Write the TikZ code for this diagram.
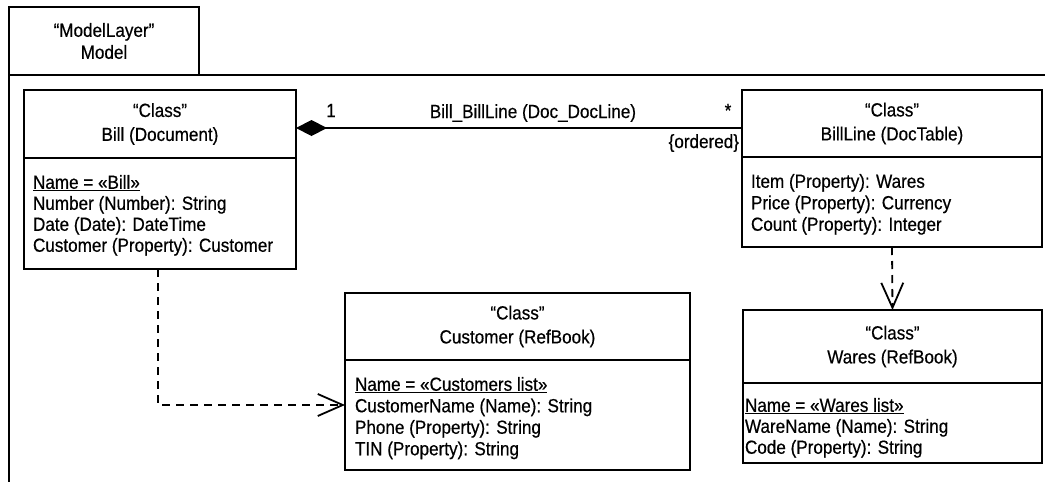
\documentclass[tikz,border=0pt]{standalone}
\usepackage{fontspec}
\setmainfont{Liberation Sans}[FakeStretch=0.9,FakeBold=0.5]
\usetikzlibrary{arrows.meta,calc}
\begin{document}
\begin{tikzpicture}[x=1pt,y=-1pt,
  every node/.style={font=\fontsize{19}{21}\selectfont, inner sep=0pt, outer sep=0pt},
  hdr/.style={draw, line width=1.8pt, align=center, anchor=north west, font=\fontsize{19}{24}\selectfont},
  bdy/.style={draw, line width=1.8pt, anchor=north west},
  attr/.style={align=left, anchor=north west},
  lbl/.style={anchor=base},
  frame/.style={line width=1.8pt},
  dep/.style={line width=1.8pt, dash pattern=on 8pt off 6pt, -{Straight Barb[length=25pt,width=22pt,line width=1.8pt]}},
  comp/.style={line width=1.8pt, {Diamond[length=31pt,width=16pt,fill=black]}-},
]
\useasboundingbox (0,0) rectangle (1045,482);
% package frame
\node[hdr, minimum width=190pt, minimum height=68pt, font=\fontsize{19}{22}\selectfont] (pkg) at (9,7) {“ModelLayer”\\Model};
\coordinate (frameR) at (1046,75);
\coordinate (frameB) at (9,483);
\draw[frame] (pkg.south west) -- (frameR);
\draw[frame] (pkg.south west) -- (frameB);

% Bill
\node[hdr, minimum width=272pt, minimum height=68pt] (billH) at (24,90) {“Class”\\Bill (Document)};
\node[bdy, minimum width=272pt, minimum height=111pt] (billB) at (billH.south west) {};
\node[attr] (billT) at (33,175) {\underline{Name = «Bill»}\\Number (Number): String\\Date (Date): DateTime\\Customer (Property): Customer};

% BillLine
\node[hdr, minimum width=300pt, minimum height=67pt] (blH) at (742,90) {“Class”\\BillLine (DocTable)};
\node[bdy, minimum width=300pt, minimum height=90pt] (blB) at (blH.south west) {};
\node[attr, font=\fontsize{19}{21.5}\selectfont] (blT) at (751,174) {Item (Property): Wares\\Price (Property): Currency\\Count (Property): Integer};

% Customer
\node[hdr, minimum width=345pt, minimum height=67pt] (cuH) at (345,293) {“Class”\\Customer (RefBook)};
\node[bdy, minimum width=345pt, minimum height=110pt] (cuB) at (cuH.south west) {};
\node[attr, font=\fontsize{19}{21.5}\selectfont] (cuT) at (355,377) {\underline{Name = «Customers list»}\\CustomerName (Name): String\\Phone (Property): String\\TIN (Property): String};

% Wares
\node[hdr, minimum width=299pt, minimum height=73pt] (waH) at (743,310) {“Class”\\Wares (RefBook)};
\node[bdy, minimum width=299pt, minimum height=80pt] (waB) at (waH.south west) {};
\node[attr, font=\fontsize{19}{21}\selectfont] (waT) at (745,398) {\underline{Name = «Wares list»}\\WareName (Name): String\\Code (Property): String};

% composition
\draw[comp] ($(billH.east)+(0,4)$) coordinate (cA) -- ($(blH.west)+(0,4.5)$) coordinate (cB);
\node[lbl] (m1) at (331,117) {1};
\node[lbl] (aname) at (533,118) {Bill\_BillLine (Doc\_DocLine)};
\node[lbl] (mstar) at (728,117) {*};
\node[anchor=base east] (ord) at (739,148) {\{ordered\}};

% dependencies
\draw[dep] (billB.south -| 158,0) |- (cuB.west |- 0,405);
\draw[dep] (blB.south) -- (waH.north);
\end{tikzpicture}
\end{document}
